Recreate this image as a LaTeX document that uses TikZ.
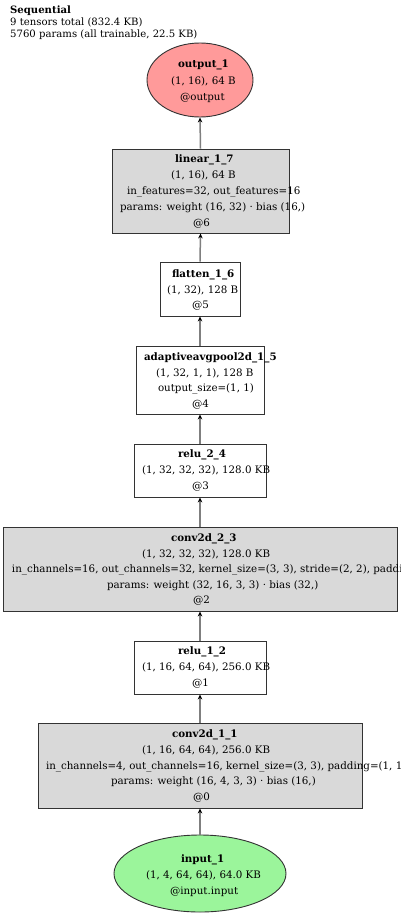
\documentclass[tikz,border=0pt]{standalone}
\usepackage{fontspec}
\setmainfont{DejaVu Serif}
\usetikzlibrary{shapes.geometric,arrows.meta}
\definecolor{boxgray}{HTML}{D9D9D9}
\definecolor{bordr}{HTML}{333333}
\definecolor{edgegray}{HTML}{7F7F7F}
\definecolor{outred}{HTML}{FF9A9A}
\definecolor{ingreen}{HTML}{9BF59B}
\tikzset{
  every node/.style={font=\fontsize{10.3}{12}\selectfont},
  layer/.style={draw=bordr, line width=0.9pt, rectangle, inner sep=0pt},
  graybox/.style={layer, fill=boxgray},
  whitebox/.style={layer, fill=white},
  oval/.style={draw=bordr, line width=0.9pt, ellipse, inner sep=0pt},
  txt/.style={anchor=base west, inner sep=0pt, outer sep=0pt},
  ttl/.style={anchor=base west, inner sep=0pt, font=\fontsize{10.1}{12}\selectfont},
  edge/.style={draw=edgegray, line width=1.5pt, -{Stealth[length=5pt,width=4.5pt,color=black]}}
}
\begin{document}
\begin{tikzpicture}[x=1pt,y=-1pt]
\clip (0,0) rectangle (400,917);
\fill[white] (0,0) rectangle (400,917);
% title
\node[ttl] (t1) at (10,14) {\textbf{Sequential}};
\node[ttl] (t2) at (10,26) {9 tensors total (832.4 KB)};
\node[ttl] (t3) at (10,37.5) {5760 params (all trainable, 22.5 KB)};
% shapes
\node[oval, fill=outred, minimum width=106pt, minimum height=74pt] (out) at (200,80) {};
\node[graybox, minimum width=177pt, minimum height=84pt] (lin) at (200.5,191) {};
\node[whitebox, minimum width=80pt, minimum height=54pt] (flat) at (200,289) {};
\node[whitebox, minimum width=128pt, minimum height=68pt] (pool) at (200,380) {};
\node[whitebox, minimum width=132pt, minimum height=53pt] (relu2) at (200,470.5) {};
\node[graybox, minimum width=394pt, minimum height=84pt] (conv2) at (200,569) {};
\node[whitebox, minimum width=132pt, minimum height=53pt] (relu1) at (200,667.5) {};
\node[graybox, minimum width=324pt, minimum height=85pt] (conv1) at (200,765.5) {};
\node[oval, fill=ingreen, minimum width=172pt, minimum height=77pt] (inp) at (200,873.5) {};
% edges
\draw[edge] (inp.north) -- (conv1.south);
\draw[edge] (conv1.north) -- (relu1.south);
\draw[edge] (relu1.north) -- (conv2.south);
\draw[edge] (conv2.north) -- (relu2.south);
\draw[edge] (relu2.north) -- (pool.south);
\draw[edge] (pool.north) -- (flat.south);
\draw[edge] (flat.north) -- (lin.south);
\draw[edge] (lin.north) -- (out.south);
% output_1
\node[txt] (o1) at (178,68) {\textbf{output\_1}};
\node[txt] (o2) at (171,85) {(1, 16), 64 B};
\node[txt] (o3) at (180,101) {@output};
% linear
\node[txt] (l1) at (175,163) {\textbf{linear\_1\_7}};
\node[txt] (l2) at (171,179) {(1, 16), 64 B};
\node[txt] (l3) at (127,195) {in\_features=32, out\_features=16};
\node[txt] (l4) at (120,210.5) {params: weight (16, 32) · bias (16,)};
\node[txt] (l5) at (193,226) {@6};
% flatten
\node[txt] (f1) at (172,277) {\textbf{flatten\_1\_6}};
\node[txt] (f2) at (167,293) {(1, 32), 128 B};
\node[txt] (f3) at (192,308.5) {@5};
% pool
\node[txt] (p1) at (144,360) {\textbf{adaptiveavgpool2d\_1\_5}};
\node[txt] (p2) at (156,376) {(1, 32, 1, 1), 128 B};
\node[txt] (p3) at (158,391.5) {output\_size=(1, 1)};
\node[txt] (p4) at (192,407) {@4};
% relu_2_4
\node[txt] (r21) at (178,457) {\textbf{relu\_2\_4}};
\node[txt] (r22) at (142,473) {(1, 32, 32, 32), 128.0 KB};
\node[txt] (r23) at (192,489) {@3};
% conv2d_2_3
\node[txt] (c21) at (171,541) {\textbf{conv2d\_2\_3}};
\node[txt] (c22) at (142,557) {(1, 32, 32, 32), 128.0 KB};
\node[txt] (c23) at (12,572.5) {in\_channels=16, out\_channels=32, kernel\_size=(3, 3), stride=(2, 2), padding=(1, 1))};
\node[txt] (c24) at (107,588) {params: weight (32, 16, 3, 3) · bias (32,)};
\node[txt] (c25) at (193,603.5) {@2};
% relu_1_2
\node[txt] (r11) at (178,654) {\textbf{relu\_1\_2}};
\node[txt] (r12) at (142,670) {(1, 16, 64, 64), 256.0 KB};
\node[txt] (r13) at (192,686) {@1};
% conv2d_1_1
\node[txt] (c11) at (172,737) {\textbf{conv2d\_1\_1}};
\node[txt] (c12) at (142,753) {(1, 16, 64, 64), 256.0 KB};
\node[txt] (c13) at (46,769) {in\_channels=4, out\_channels=16, kernel\_size=(3, 3), padding=(1, 1))};
\node[txt] (c14) at (111,784.5) {params: weight (16, 4, 3, 3) · bias (16,)};
\node[txt] (c15) at (193,800) {@0};
% input_1
\node[txt] (i1) at (181,862) {\textbf{input\_1}};
\node[txt] (i2) at (146,878) {(1, 4, 64, 64), 64.0 KB};
\node[txt] (i3) at (170,894) {@input.input};
\end{tikzpicture}
\end{document}
